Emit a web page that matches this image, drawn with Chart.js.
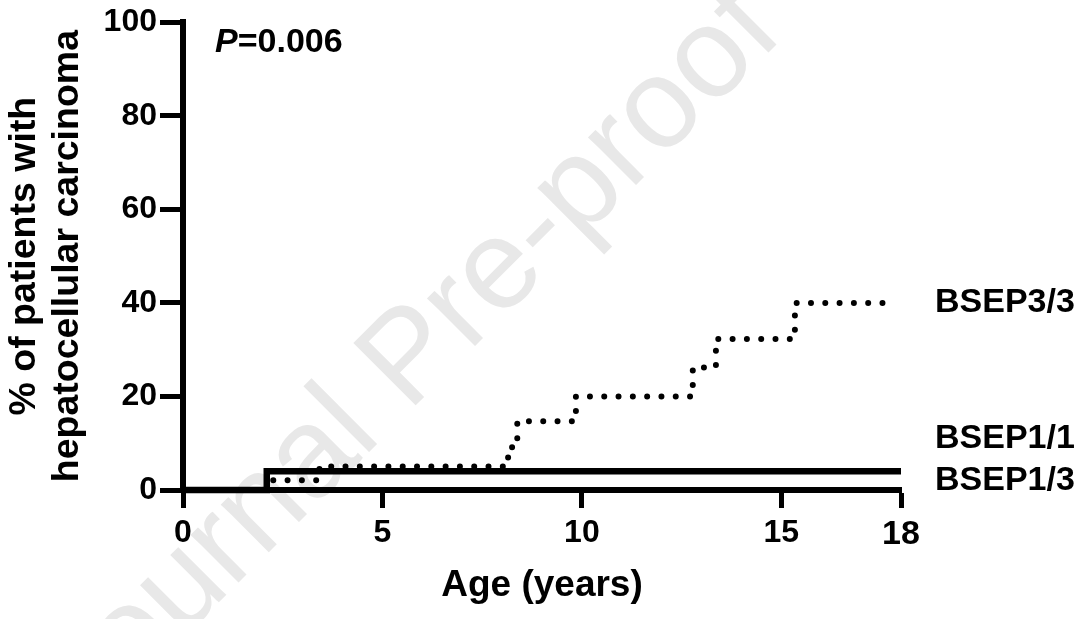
<!DOCTYPE html>
<html>
<head>
<meta charset="utf-8">
<script src="https://cdn.jsdelivr.net/npm/chart.js@4/dist/chart.umd.min.js"></script>
<style>
html,body{margin:0;padding:0;background:#fff;}
#wrap{width:1080px;height:619px;position:relative;}
</style>
</head>
<body>
<div id="wrap"><canvas id="c" width="1080" height="619"></canvas></div>
<script>
// ---- data ----
const seriesNames = ['BSEP3/3', 'BSEP1/1', 'BSEP1/3'];
const bsep33Age = [0, 2.1, 3.42, 8.15, 8.25, 8.38, 9.85, 12.78, 13.36, 15.34, 17.7];
const bsep33Pct = [0, 2.1, 5.0, 7.4, 9.9, 14.7, 20.0, 26.2, 32.3, 40.0, 40.0];
const bsep11Age = [0, 2.1, 18];
const bsep11Pct = [0, 4.0, 4.0];
const bsep13Age = [0, 18];
const bsep13Pct = [0, 0];
const xTickValues = [0, 5, 10, 15, 18];
const yTickValues = [0, 20, 40, 60, 80, 100];
const seriesLabelAnchorPct = [40, 11, 2];
const xTitle = 'Age (years)';
const yTitle = ['% of patients with', 'hepatocellular carcinoma'];
const pLabel = ['P', '=0.006'];
const watermark = 'Journal Pre-proof';

const FAMILY = '"Liberation Sans", Arial, Helvetica, sans-serif';
Chart.defaults.font.family = FAMILY;
Chart.defaults.color = '#000';

function pts(xs, ys) { return xs.map((x, i) => ({x: x, y: ys[i]})); }

const watermarkPlugin = {
  id: 'watermark',
  beforeDraw(chart) {
    const ctx = chart.ctx;
    ctx.save();
    ctx.translate(436, 385);
    ctx.rotate(-Math.PI / 4);
    ctx.font = '128px ' + FAMILY;
    ctx.fillStyle = '#e8e8e8';
    ctx.textAlign = 'center';
    ctx.textBaseline = 'alphabetic';
    ctx.fillText(watermark, 0, 0);
    ctx.restore();
  }
};

const annotPlugin = {
  id: 'annot',
  afterDraw(chart) {
    const ctx = chart.ctx;
    const ys = chart.scales.y;
    const area = chart.chartArea;
    ctx.save();
    ctx.fillStyle = '#000';
    ctx.textBaseline = 'middle';
    ctx.textAlign = 'left';
    ctx.font = 'bold 34px ' + FAMILY;
    seriesNames.forEach((n, i) => {
      ctx.fillText(n, area.right + 34, ys.getPixelForValue(seriesLabelAnchorPct[i]));
    });
    // P value
    let px = area.left + 32;
    const py = area.top + 20;
    ctx.font = 'italic bold 34px ' + FAMILY;
    ctx.fillText(pLabel[0], px, py);
    px += ctx.measureText(pLabel[0]).width;
    ctx.font = 'bold 34px ' + FAMILY;
    ctx.fillText(pLabel[1], px, py);
    ctx.restore();
  }
};

new Chart(document.getElementById('c'), {
  type: 'line',
  data: {
    datasets: [
      {
        label: seriesNames[2],
        data: pts(bsep13Age, bsep13Pct),
        borderColor: '#000', borderWidth: 5, pointRadius: 0,
        stepped: true, fill: false, clip: false
      },
      {
        label: seriesNames[1],
        data: pts(bsep11Age, bsep11Pct),
        borderColor: '#000', borderWidth: 6.5, pointRadius: 0,
        stepped: true, fill: false, clip: false,
        borderJoinStyle: 'miter', borderCapStyle: 'butt'
      },
      {
        label: seriesNames[0],
        data: pts(bsep33Age, bsep33Pct),
        borderColor: '#000', borderWidth: 6, pointRadius: 0,
        stepped: true, fill: false, clip: false,
        borderDash: [0, 14.3], borderCapStyle: 'round'
      }
    ]
  },
  options: {
    responsive: false,
    animation: false,
    devicePixelRatio: 1,
    layout: { padding: { top: 22, right: 179, left: 0, bottom: 0 } },
    plugins: { legend: { display: false }, tooltip: { enabled: false } },
    scales: {
      x: {
        type: 'linear', min: 0, max: 18,
        afterBuildTicks: s => { s.ticks = xTickValues.map(v => ({value: v})); },
        afterFit: s => { s.height = 129; },
        ticks: {
          autoSkip: false, maxRotation: 0, padding: 6, color: '#000',
          font: ctx => ({ size: (ctx.tick && ctx.tick.value === 18) ? 34 : 32, weight: 'bold', family: FAMILY })
        },
        grid: { display: true, drawOnChartArea: false, drawTicks: true, tickLength: 18, tickWidth: 5, tickColor: '#000' },
        border: { display: true, width: 6, color: '#000' },
        title: {
          display: true, text: xTitle, color: '#000',
          font: { size: 37, weight: 'bold', family: FAMILY, lineHeight: 1.2 },
          padding: { top: 0, bottom: 11 }
        }
      },
      y: {
        type: 'linear', min: 0, max: 100,
        afterBuildTicks: s => { s.ticks = yTickValues.map(v => ({value: v})); },
        afterFit: s => { s.width = 183; },
        ticks: { padding: 3, color: '#000', font: { size: 32, weight: 'bold', family: FAMILY } },
        grid: { display: true, drawOnChartArea: false, drawTicks: true, tickLength: 23, tickWidth: 5, tickColor: '#000' },
        border: { display: true, width: 6, color: '#000' },
        title: {
          display: true, text: yTitle, color: '#000',
          font: { size: 37.5, weight: 'bold', family: FAMILY, lineHeight: 1.15 },
          padding: { top: 3, bottom: 0 }
        }
      }
    }
  },
  plugins: [watermarkPlugin, annotPlugin]
});
</script>
</body>
</html>
